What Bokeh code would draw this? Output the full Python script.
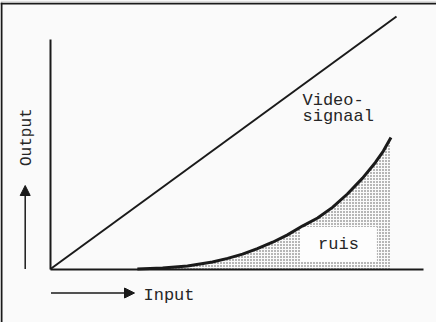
import math
from bokeh.plotting import figure
from bokeh.models import (LinearAxis, FixedTicker, Span, Label, Arrow, NormalHead,
                          Range1d)
from bokeh.embed import file_html
from bokeh.resources import INLINE

# ---- data (arbitrary units, origin at 0) ----
VIDEO_INPUT = [0, 100]
VIDEO_OUTPUT = [0, 100]

NOISE_INPUT = [25.1, 32.4, 39.6, 46.8, 51.2, 55.5, 59.8, 64.2, 68.5,
               72.8, 77.2, 81.5, 85.8, 90.2, 93.9, 96.2, 98.4]
NOISE_OUTPUT = [0.0, 0.4, 1.2, 2.8, 4.2, 5.9, 8.1, 10.6, 13.5,
                17.0, 20.2, 24.4, 29.7, 36.0, 42.2, 46.7, 52.1]

X_AXIS_END = 107.8
Y_AXIS_END = 90.9

LABEL_SIGNAL = ["Video-", "signaal"]
LABEL_NOISE = "ruis"
LABEL_X = "Input"
LABEL_Y = "Output"

# ---- layout ----
W, H = 436, 322
TOP = 2
SX = 3.46      # px per unit (x)
SY = 2.525     # px per unit (y)
OX = 50        # frame px of x origin
OY = 266.5     # frame px (from frame top) of y origin
FRAME_H = H - TOP
BASE_SHIFT = 4  # px correction for alphabetic baseline

xs = -OX / SX
xe = xs + W / SX
ye = OY / SY
ys = ye - FRAME_H / SY


def ux(px):
    return (px - 58) / SX


def vy(py):
    return (276.5 - py) / SY


INK = "#1a1a1a"
TXT = "#262626"
FONT = "Liberation Mono"

p = figure(width=W, height=H, output_backend="svg", toolbar_location=None,
           x_axis_type=None, y_axis_type=None,
           x_range=Range1d(xs, xe), y_range=Range1d(ys, ye),
           min_border_left=0, min_border_right=0, min_border_bottom=0,
           min_border_top=TOP)
p.border_fill_color = "#dedede"
p.background_fill_color = "#fafafa"
p.outline_line_color = None

# frame border (top and left)
p.add_layout(Span(location=xs + 1 / SX, dimension="height", line_color=INK, line_width=2))
p.add_layout(Span(location=ye - 1 / SY, dimension="width", line_color=INK, line_width=2))

# axes
xaxis = LinearAxis(fixed_location=0, bounds=(0, X_AXIS_END), ticker=FixedTicker(ticks=[]),
                   axis_line_width=2, axis_line_color=INK,
                   major_tick_line_color=None, minor_tick_line_color=None,
                   major_label_text_color=None)
yaxis = LinearAxis(fixed_location=0, bounds=(0, Y_AXIS_END), ticker=FixedTicker(ticks=[]),
                   axis_line_width=2, axis_line_color=INK,
                   major_tick_line_color=None, minor_tick_line_color=None,
                   major_label_text_color=None)
p.add_layout(xaxis, "below")
p.add_layout(yaxis, "left")

# noise area
p.varea(x=NOISE_INPUT, y1=[0] * len(NOISE_INPUT), y2=NOISE_OUTPUT,
        fill_color="#fafafa", hatch_pattern="dot", hatch_color="#505050",
        hatch_scale=3, hatch_weight=1)

# video signal
p.line(VIDEO_INPUT, VIDEO_OUTPUT, line_width=2, line_color=INK)

# labels
p.add_layout(Label(x=ux(310), y=vy(111.7 - BASE_SHIFT), text=LABEL_SIGNAL[0],
                   text_font=FONT, text_font_size="17px", text_color=TXT,
                   text_baseline="alphabetic"))
p.add_layout(Label(x=ux(310), y=vy(128.3 - BASE_SHIFT), text=LABEL_SIGNAL[1],
                   text_font=FONT, text_font_size="17px", text_color=TXT,
                   text_baseline="alphabetic"))
p.add_layout(Label(x=ux(346), y=vy(252), text=LABEL_NOISE,
                   text_font=FONT, text_font_size="17px", text_color=TXT,
                   text_align="center", text_baseline="middle",
                   background_fill_color="#fdfdfd", padding=(18, 8)))

# noise curve drawn above the label box
p.line(NOISE_INPUT, NOISE_OUTPUT, line_width=3, line_color=INK, level="overlay")

# axis captions with arrows
p.add_layout(Label(x=ux(151), y=vy(306.7 - BASE_SHIFT), text=LABEL_X,
                   text_font=FONT, text_font_size="17px", text_color=TXT,
                   text_baseline="alphabetic"))
p.add_layout(Arrow(x_start=ux(58.5), y_start=vy(300.5),
                   x_end=ux(142), y_end=vy(300.5),
                   line_width=1.5, line_color=INK,
                   end=NormalHead(size=10, fill_color=INK, line_color=INK, line_width=1)))

p.add_layout(Label(x=ux(38.5 - BASE_SHIFT), y=vy(173.5), text=LABEL_Y,
                   angle=math.pi / 2,
                   text_font=FONT, text_font_size="16px", text_color=TXT,
                   text_baseline="alphabetic"))
p.add_layout(Arrow(x_start=ux(32.7), y_start=0,
                   x_end=ux(32.7), y_end=vy(193),
                   line_width=1.5, line_color=INK,
                   end=NormalHead(size=10, fill_color=INK, line_color=INK, line_width=1)))

open("out.html", "w").write(file_html(p, INLINE))
